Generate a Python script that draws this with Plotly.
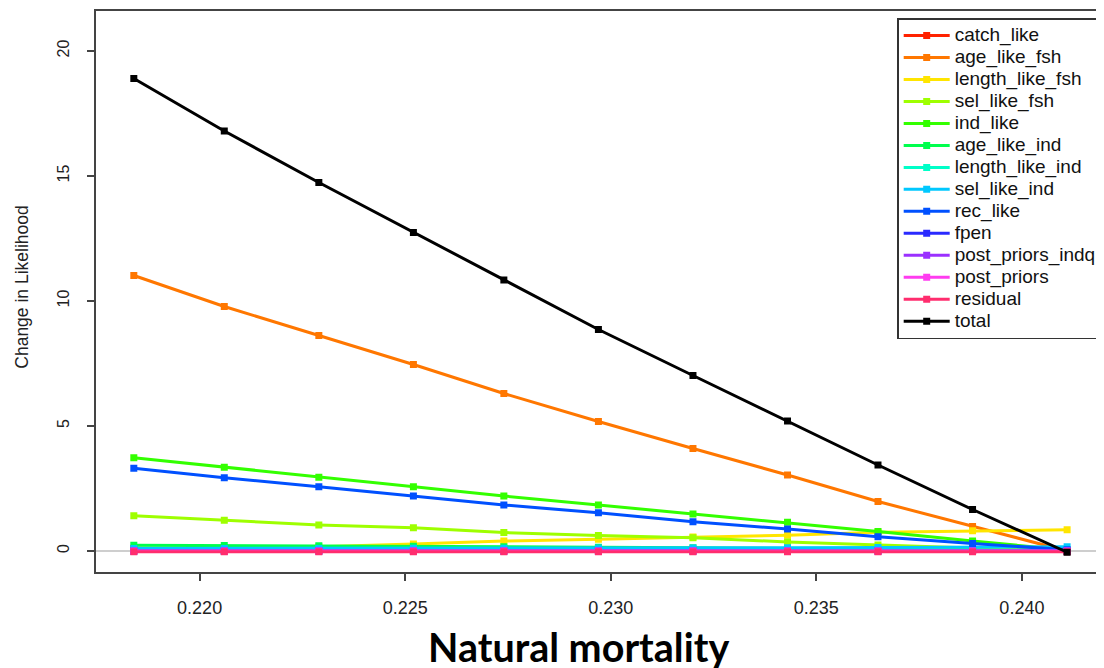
import plotly.graph_objects as go

# Natural mortality values (x)
M = [0.2184, 0.2206, 0.2229, 0.2252, 0.2274, 0.2297, 0.2320, 0.2343, 0.2365, 0.2388, 0.2411]

series_names = ["catch_like", "age_like_fsh", "length_like_fsh", "sel_like_fsh", "ind_like",
                "age_like_ind", "length_like_ind", "sel_like_ind", "rec_like", "fpen",
                "post_priors_indq", "post_priors", "residual", "total"]

catch_like = [0.11, 0.10, 0.09, 0.08, 0.07, 0.06, 0.05, 0.04, 0.03, 0.01, 0.0]
age_like_fsh = [11.02, 9.78, 8.62, 7.46, 6.30, 5.18, 4.10, 3.04, 1.98, 0.98, 0.0]
length_like_fsh = [0.05, 0.10, 0.17, 0.28, 0.40, 0.47, 0.56, 0.63, 0.75, 0.81, 0.85]
sel_like_fsh = [1.41, 1.23, 1.04, 0.93, 0.74, 0.62, 0.53, 0.36, 0.24, 0.10, 0.0]
ind_like = [3.73, 3.35, 2.95, 2.57, 2.20, 1.84, 1.48, 1.15, 0.78, 0.40, 0.04]
age_like_ind = [0.23, 0.22, 0.21, 0.19, 0.17, 0.15, 0.13, 0.10, 0.07, 0.04, 0.0]
length_like_ind = [0.0, 0.0, 0.0, 0.0, 0.0, 0.0, 0.0, 0.0, 0.0, 0.0, 0.0]
sel_like_ind = [0.10, 0.10, 0.10, 0.11, 0.11, 0.12, 0.12, 0.13, 0.14, 0.15, 0.17]
rec_like = [3.31, 2.93, 2.57, 2.20, 1.84, 1.53, 1.17, 0.88, 0.57, 0.30, 0.05]
fpen = [0.0, 0.0, 0.0, 0.0, 0.0, 0.0, 0.0, 0.0, 0.0, 0.0, 0.0]
post_priors_indq = [0.0, 0.0, 0.0, 0.0, 0.0, 0.0, 0.0, 0.0, 0.0, 0.0, 0.0]
post_priors = [0.0, 0.0, 0.0, 0.0, 0.0, 0.0, 0.0, 0.0, 0.0, 0.0, 0.0]
residual = [-0.03, -0.03, -0.03, -0.03, -0.03, -0.03, -0.03, -0.03, -0.03, -0.03, -0.03]
total = [18.90, 16.80, 14.74, 12.74, 10.84, 8.86, 7.02, 5.20, 3.44, 1.66, -0.05]

series_values = [catch_like, age_like_fsh, length_like_fsh, sel_like_fsh, ind_like,
                 age_like_ind, length_like_ind, sel_like_ind, rec_like, fpen,
                 post_priors_indq, post_priors, residual, total]

colors = ["#FF2200", "#FF7700", "#FFE500", "#9EFF00", "#33FF00", "#00FF4D", "#00FFC8",
          "#00C8FF", "#0050FF", "#2A2AFF", "#9B30FF", "#FF3CF0", "#FF2D6E", "#000000"]

x_tick_vals = [0.220, 0.225, 0.230, 0.235, 0.240]
x_tick_text = ["0.220", "0.225", "0.230", "0.235", "0.240"]
y_tick_vals = [0, 5, 10, 15, 20]
y_tick_text = ["0", "5", "10", "15", "20"]

fig = go.Figure()
for name, vals, col in zip(series_names, series_values, colors):
    fig.add_trace(go.Scatter(
        x=M, y=vals, mode="lines+markers",
        name='<span style="font-size:19px">' + name + '</span>',
        line=dict(color=col, width=3),
        marker=dict(symbol="square", size=7, color=col),
    ))

fig.add_shape(type="line", xref="paper", yref="y", x0=0, x1=1, y0=0, y1=0,
              line=dict(color="#BEBEBE", width=1.5), layer="below")

fig.add_annotation(text="<b>Natural mortality</b>", xref="paper", yref="paper",
                   x=0.481, y=-0.133, xanchor="center", yanchor="middle", showarrow=False,
                   font=dict(family="Lato", size=39.5, color="#000000"))
fig.add_annotation(text="Change in Likelihood", xref="paper", yref="paper",
                   x=-0.074, y=0.508, xanchor="center", yanchor="middle", showarrow=False,
                   textangle=-90, font=dict(family="Liberation Sans", size=17.5, color="#222222"))

# page body has an 8px margin, so the figure is sized/margined to land on the reference layout
fig.update_layout(
    width=1096, height=660,
    margin=dict(l=88, r=4, t=3, b=96, autoexpand=False),
    paper_bgcolor="white", plot_bgcolor="white",
    font=dict(family="Liberation Sans", color="#222222"),
    showlegend=True,
    legend=dict(
        x=0.798, y=0.9875, xanchor="left", yanchor="top",
        bgcolor="white", bordercolor="#333333", borderwidth=1.5,
        font=dict(family="Liberation Sans", size=14.6, color="#111111"),
        itemwidth=46, traceorder="normal",
    ),
    xaxis=dict(
        range=[0.21748, 0.2419], tickmode="array", tickvals=x_tick_vals, ticktext=x_tick_text,
        showgrid=False, zeroline=False, showline=True, mirror=True,
        linecolor="#444444", linewidth=1.5, automargin=False,
        ticks="outside", ticklen=7, tickwidth=1.5, tickcolor="#444444",
        tickfont=dict(size=18, color="#222222"), ticklabelstandoff=12,
    ),
    yaxis=dict(
        range=[-0.84, 21.6], tickmode="array", tickvals=y_tick_vals, ticktext=y_tick_text,
        showgrid=False, zeroline=False, showline=True, mirror=True,
        linecolor="#444444", linewidth=1.5, automargin=False,
        ticks="outside", ticklen=7, tickwidth=1.5, tickcolor="#444444",
        tickangle=-90, tickfont=dict(size=16, color="#222222"), ticklabelstandoff=12,
    ),
)

fig.write_html("out.html")
